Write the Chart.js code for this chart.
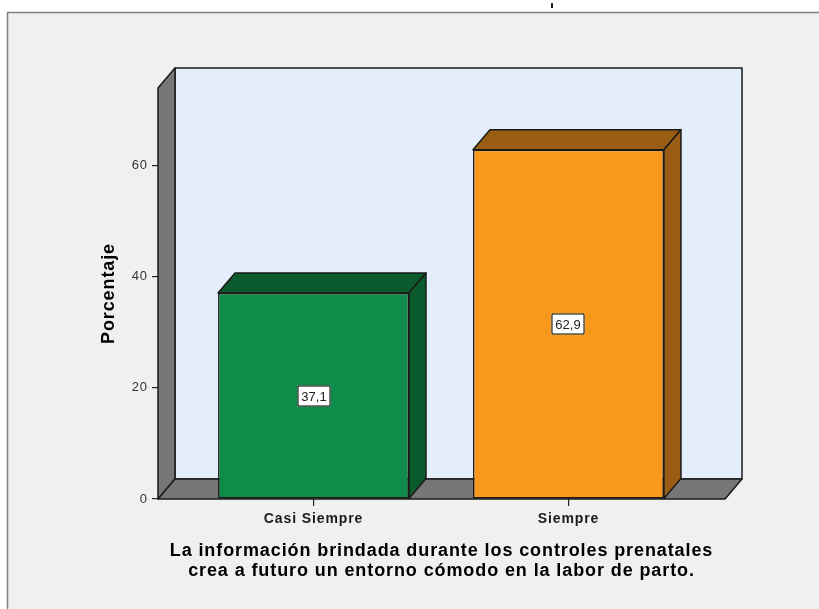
<!DOCTYPE html>
<html>
<head>
<meta charset="utf-8">
<script src="https://cdn.jsdelivr.net/npm/chart.js@4.4.1/dist/chart.umd.min.js"></script>
<style>
  html, body { margin: 0; padding: 0; background: #ffffff; overflow: hidden; }
  #c { display: block; }
</style>
</head>
<body>
<canvas id="c" width="819" height="609"></canvas>
<script>
// Response categories and their percentages
const categories = ['Casi Siempre', 'Siempre'];
const percentages = [37.1, 62.9];
// Y axis tick values
const yTicks = [0, 20, 40, 60];

// Face colours: front, darker top/side
const frontColors = ['#108c4a', '#f8991e'];
const shadeColors = ['#0a5a2d', '#9a5d14'];

const DEPTH_X = 17;   // 3D depth offset, horizontal
const DEPTH_Y = 20;   // 3D depth offset, vertical
const FONT = "'Liberation Sans', Arial, sans-serif";

const fmt = v => v.toFixed(1).replace('.', ',');

function poly(ctx, pts, fill) {
  ctx.beginPath();
  ctx.moveTo(pts[0][0], pts[0][1]);
  for (let i = 1; i < pts.length; i++) ctx.lineTo(pts[i][0], pts[i][1]);
  ctx.closePath();
  ctx.fillStyle = fill;
  ctx.fill();
  ctx.stroke();
}

// Slightly wider text tracking for all chart text
const tracking = {
  id: 'tracking',
  beforeUpdate(chart) { chart.ctx.letterSpacing = '0.9px'; },
  beforeDraw(chart) { chart.ctx.letterSpacing = '0.9px'; }
};

// Panel background and frame
const panel = {
  id: 'panel',
  beforeDraw(chart) {
    const ctx = chart.ctx;
    ctx.save();
    ctx.fillStyle = '#ffffff';
    ctx.fillRect(0, 0, chart.width, chart.height);
    ctx.fillStyle = '#f0f0f0';
    ctx.fillRect(7, 12, chart.width - 7, chart.height - 12);
    ctx.strokeStyle = '#808080';
    ctx.lineWidth = 1.5;
    ctx.beginPath();
    ctx.moveTo(7.5, chart.height);
    ctx.lineTo(7.5, 12.5);
    ctx.lineTo(chart.width, 12.5);
    ctx.stroke();
    ctx.fillStyle = '#222';
    ctx.fillRect(551, 3, 2, 5);
    ctx.restore();
  }
};

// Back wall, left wall and floor of the 3D frame
const walls = {
  id: 'walls',
  beforeDatasetsDraw(chart) {
    const {ctx, chartArea: {left: L, right: R, top: T, bottom: B}} = chart;
    ctx.save();
    ctx.strokeStyle = '#1a1a1a';
    ctx.lineWidth = 1.5;
    ctx.lineJoin = 'round';
    poly(ctx, [[L + DEPTH_X, T - DEPTH_Y], [R + DEPTH_X, T - DEPTH_Y], [R + DEPTH_X, B - DEPTH_Y], [L + DEPTH_X, B - DEPTH_Y]], '#e3eefa');
    poly(ctx, [[L, T], [L + DEPTH_X, T - DEPTH_Y], [L + DEPTH_X, B - DEPTH_Y], [L, B]], '#777777');
    poly(ctx, [[L, B], [L + DEPTH_X, B - DEPTH_Y], [R + DEPTH_X, B - DEPTH_Y], [R, B]], '#777777');
    ctx.restore();
  }
};

// Top and side faces of the bars, plus value boxes
const barFaces = {
  id: 'barFaces',
  afterDatasetsDraw(chart) {
    const ctx = chart.ctx;
    const meta = chart.getDatasetMeta(0);
    ctx.save();
    ctx.strokeStyle = '#1a1a1a';
    ctx.lineWidth = 1.5;
    ctx.lineJoin = 'round';
    meta.data.forEach((bar, i) => {
      const p = bar.getProps(['x', 'y', 'base', 'width'], true);
      const x0 = p.x - p.width / 2, x1 = p.x + p.width / 2;
      poly(ctx, [[x0, p.y], [x0 + DEPTH_X, p.y - DEPTH_Y], [x1 + DEPTH_X, p.y - DEPTH_Y], [x1, p.y]], shadeColors[i]);
      poly(ctx, [[x1, p.y], [x1 + DEPTH_X, p.y - DEPTH_Y], [x1 + DEPTH_X, p.base - DEPTH_Y], [x1, p.base]], shadeColors[i]);
    });
    ctx.letterSpacing = '0px';
    ctx.font = '13px ' + FONT;
    ctx.textAlign = 'center';
    ctx.textBaseline = 'middle';
    ctx.lineWidth = 1;
    meta.data.forEach((bar, i) => {
      const p = bar.getProps(['x', 'y', 'base'], true);
      const cy = Math.round((p.y + p.base) / 2);
      const cx = Math.round(p.x);
      const text = fmt(percentages[i]);
      const w = Math.round(ctx.measureText(text).width) + 8;
      const h = 21;
      ctx.fillStyle = '#ffffff';
      ctx.fillRect(cx - w / 2, cy - h / 2, w, h);
      ctx.strokeStyle = '#000000';
      ctx.strokeRect(cx - w / 2 + 0.5, cy - h / 2 + 0.5, w - 1, h - 1);
      ctx.fillStyle = '#222222';
      ctx.fillText(text, cx, cy + 1);
    });
    ctx.restore();
  }
};

new Chart(document.getElementById('c'), {
  type: 'bar',
  data: {
    datasets: [{
      data: percentages.map((v, i) => ({x: i, y: v})),
      backgroundColor: frontColors,
      borderColor: '#1a1a1a',
      borderWidth: 1.5,
      borderSkipped: false,
      barPercentage: 0.749,
      categoryPercentage: 1
    }]
  },
  options: {
    responsive: false,
    devicePixelRatio: 1,
    animation: false,
    layout: { padding: { left: 0, top: 88, right: 94, bottom: 0 } },
    plugins: { legend: { display: false }, tooltip: { enabled: false } },
    scales: {
      x: {
        type: 'linear',
        offset: false,
        bounds: 'data',
        min: -0.61,
        max: 1.614,
        afterBuildTicks: s => { s.ticks = categories.map((c, i) => ({value: i})); },
        afterFit: s => { s.height = 110; },
        border: { display: false },
        grid: { offset: false, drawOnChartArea: false, drawTicks: true, tickLength: 7, color: '#222', lineWidth: 1.2 },
        ticks: {
          autoSkip: false,
          maxRotation: 0,
          padding: 5,
          color: '#1a1a1a',
          font: { family: FONT, size: 14, weight: 'bold' },
          callback: v => categories[v]
        },
        title: {
          display: true,
          text: ['La información brindada durante los controles prenatales',
                 'crea a futuro un entorno cómodo en la labor de parto.'],
          color: '#000',
          font: { family: FONT, size: 18, weight: 'bold', lineHeight: '20px' },
          padding: { top: 0, bottom: 28 }
        }
      },
      y: {
        min: 0,
        max: 74,
        afterBuildTicks: s => { s.ticks = yTicks.map(v => ({value: v})); },
        afterFit: s => { s.width = 158; },
        border: { display: false },
        grid: { drawOnChartArea: false, drawTicks: true, tickLength: 6, color: '#222', lineWidth: 1.2 },
        ticks: {
          padding: 4,
          color: '#333',
          font: { family: FONT, size: 13 }
        },
        title: {
          display: true,
          text: 'Porcentaje',
          color: '#000',
          font: { family: FONT, size: 18, weight: 'bold', lineHeight: '20px' },
          padding: { top: 99, bottom: 0 }
        }
      }
    }
  },
  plugins: [tracking, panel, walls, barFaces]
});
</script>
</body>
</html>
